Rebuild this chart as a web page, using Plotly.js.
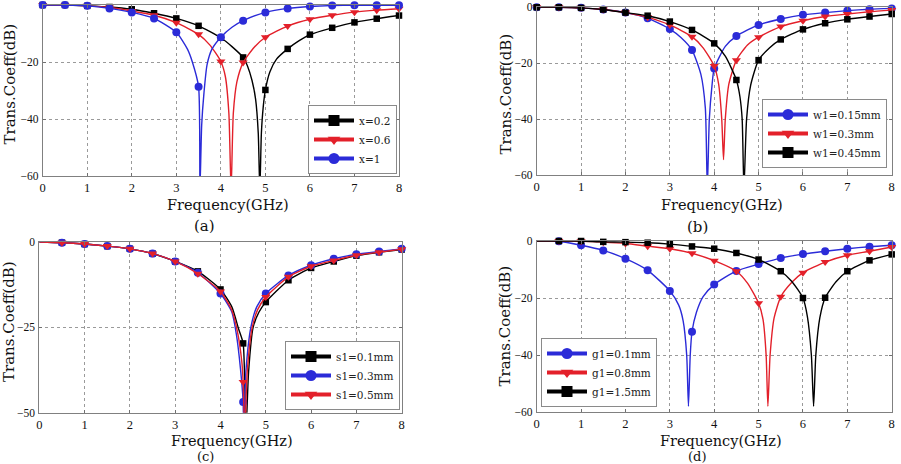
<!DOCTYPE html>
<html>
<head>
<meta charset="utf-8">
<script src="https://cdn.plot.ly/plotly-3.0.1.min.js"></script>
<style>html,body{margin:0;padding:0;background:#fff;}#chart{width:901px;height:464px;}</style>
</head>
<body>
<div id="chart"></div>
<script>
// ---------- DATA ----------
// Marker frequencies (GHz)
const freqAB = [0,0.5,1,1.5,2,2.5,3,3.5,4,4.5,5,5.5,6,6.5,7,7.5,8];
const freqCD = [0.5,1,1.5,2,2.5,3,3.5,4,4.5,5,5.5,6,6.5,7,7.5,8];

// Panel (a): x = 0.2, 0.6, 1
const a_x02 = [0,0,-0.3,-0.7,-1.5,-2.9,-4.7,-7.3,-11.5,-18.4,-29.8,-15.4,-10.4,-8.0,-6.1,-4.8,-3.7];
const a_x06 = [0,0,-0.3,-0.9,-2.1,-3.6,-6.2,-10.3,-19.8,-20.2,-11.3,-7.4,-5.0,-3.6,-2.5,-1.8,-1.3];
const a_x1  = [0,0,-0.3,-1.2,-2.6,-4.7,-9.6,-28.7,-11.3,-5.5,-2.6,-1.2,-0.5,-0.2,-0.1,-0.1,-0.1];
// extra curve points read near the notches
const a_x02_ef = [4.25,4.6,4.7,4.78,4.84,4.875,4.91,4.95,5.1,5.25,5.75];
const a_x02_ev = [-14.6,-21.5,-26.5,-33,-45,-65,-45,-36,-23.5,-19,-12.6];
const a_x06_ef = [3.75,4.1,4.18,4.23,4.28,4.36,4.75];
const a_x06_ev = [-14,-25,-38,-65,-38,-27,-14.8];
const a_x1_ef  = [3.25,3.36,3.53,3.57,3.62,3.69,3.8,4.25];
const a_x1_ev  = [-15.5,-20,-65,-42,-31,-21,-15.5,-7.8];

// Panel (b): w1 = 0.15, 0.3, 0.45 mm
const b_w015 = [0,0,-0.2,-0.8,-1.9,-3.9,-7.8,-15.3,-21.9,-10.3,-6.3,-4.2,-2.7,-1.9,-1.2,-0.7,-0.4];
const b_w03  = [0,0,-0.2,-0.8,-1.9,-3.6,-6.3,-10.5,-21.0,-18.9,-10.7,-6.9,-4.8,-3.3,-2.4,-1.6,-1.0];
const b_w045 = [0,0,-0.2,-0.8,-1.9,-3.0,-5.1,-8.1,-12.9,-26.0,-18.9,-11.5,-7.9,-5.7,-4.3,-3.3,-2.4];
const b_w015_ef = [3.25,3.7,3.8,3.845,3.89,3.95,4.25];
const b_w015_ev = [-10.8,-24,-36,-65,-40,-28,-14];
const b_w03_ef  = [3.75,4.1,4.17,4.21,4.25,4.33,4.75];
const b_w03_ev  = [-14.5,-27.5,-40,-54.5,-40,-27.5,-13.5];
const b_w045_ef = [4.25,4.58,4.63,4.67,4.73,4.82,5.25];
const b_w045_ev = [-17.5,-32,-40,-65,-40,-28,-14.5];

// Panel (c): s1 = 0.1, 0.3, 0.5 mm
const c_s01 = [-0.2,-0.6,-1.2,-2.0,-3.4,-5.7,-8.6,-13.9,-29.7,-17.6,-11.2,-7.6,-5.7,-4.0,-3.0,-2.2];
const c_s03 = [-0.2,-0.6,-1.2,-2.0,-3.4,-5.7,-9.0,-15.1,-46.9,-15.1,-9.8,-6.8,-4.9,-3.6,-2.8,-2.0];
const c_s05 = [-0.2,-0.6,-1.2,-2.0,-3.4,-5.7,-9.3,-14.5,-41.0,-16.1,-10.2,-7.1,-5.4,-3.9,-3.0,-2.1];
const c_s01_ef = [0,4.25,4.4,4.56,4.62,4.72,4.85];
const c_s01_ev = [0,-19,-25.5,-56,-38,-25,-20.5];
const c_s03_ef = [0,4.25,4.35,4.44,4.51,4.56,4.67,4.8];
const c_s03_ev = [0,-20.5,-27,-37,-56,-38,-25,-19];
const c_s05_ef = [0,4.25,4.37,4.47,4.535,4.59,4.7,4.82];
const c_s05_ev = [0,-20,-26,-35,-56,-38,-25,-19.8];

// Panel (d): g1 = 0.1, 0.8, 1.5 mm
const d_g01 = [-0.1,-1.5,-3.3,-6.2,-10.3,-17.5,-31.8,-15.3,-10.5,-8.1,-6.0,-4.6,-3.6,-2.7,-2.0,-1.5];
const d_g08 = [0,-0.1,-0.4,-0.9,-1.8,-2.7,-4.3,-6.9,-10.6,-21.8,-19.6,-11.1,-7.4,-5.0,-3.6,-2.1];
const d_g15 = [0,0,-0.3,-0.4,-0.6,-1.1,-1.9,-2.7,-4.2,-6.5,-10.6,-20.0,-19.9,-10.6,-6.8,-4.7];
const d_g01_ef = [0,3.2,3.3,3.38,3.42,3.46,3.6,3.75];
const d_g01_ev = [0,-22.5,-28,-40,-58,-40,-25,-19.5];
const d_g08_ef = [0,4.75,5.1,5.17,5.21,5.26,5.35,5.75];
const d_g08_ev = [0,-14.8,-27.5,-40,-58,-40,-27,-14.5];
const d_g15_ef = [0,5.75,6.1,6.19,6.24,6.29,6.38,6.75];
const d_g15_ev = [0,-14.2,-26.5,-40,-58,-40,-27,-14.2];

// labels
const legA = ['x=0.2','x=0.6','x=1'];
const legB = ['w1=0.15mm','w1=0.3mm','w1=0.45mm'];
const legC = ['s1=0.1mm','s1=0.3mm','s1=0.5mm'];
const legD = ['g1=0.1mm','g1=0.8mm','g1=1.5mm'];
const xTitle = 'Frequency(GHz)';
const yTitle = 'Trans.Coeff(dB)';
const captions = ['(a)','(b)','(c)','(d)'];

// ---------- STYLE ----------
const BLACK = '#000000', RED = '#e3202a', BLUE = '#2b2bd8';
const FONT = 'DejaVu Serif, Liberation Serif, serif';
const TFONT = 'Liberation Serif, DejaVu Serif, serif';
const SYM = {sq:'square', tri:'triangle-down', ci:'circle'};

function merge(fm, vm, fe, ve) {
  const pts = fm.map((f,i)=>[f,vm[i]]).concat(fe.map((f,i)=>[f,ve[i]]));
  pts.sort((p,q)=>p[0]-q[0]);
  return {x: pts.map(p=>p[0]), y: pts.map(p=>p[1])};
}

const traces = [];
function series(n, fm, vm, fe, ve, color, sym, name, legendId, group) {
  const c = merge(fm, vm, fe, ve);
  const xa = 'x' + (n===1?'':n), ya = 'y' + (n===1?'':n);
  traces.push({x:c.x, y:c.y, xaxis:xa, yaxis:ya, mode:'lines', showlegend:false,
    line:{color:color, width:1.4, shape:'spline', smoothing:0.6}, hoverinfo:'skip'});
  traces.push({x:fm, y:vm, xaxis:xa, yaxis:ya, mode:'markers', showlegend:false,
    marker:{color:color, symbol:sym, size: sym==='square'?6.5:8}, cliponaxis:false});
  traces.push({x:[null], y:[null], xaxis:xa, yaxis:ya, mode:'lines+markers', name:name,
    legend:legendId, legendgroup:group,
    line:{color:color, width:4}, marker:{color:color, symbol:sym, size:11}});
}

// panel a (legend order: black, red, blue)
series(1, freqAB, a_x02, a_x02_ef, a_x02_ev, BLACK, SYM.sq,  legA[0], 'legend', 'a1');
series(1, freqAB, a_x06, a_x06_ef, a_x06_ev, RED,   SYM.tri, legA[1], 'legend', 'a2');
series(1, freqAB, a_x1,  a_x1_ef,  a_x1_ev,  BLUE,  SYM.ci,  legA[2], 'legend', 'a3');
// panel b (legend order: blue, red, black)
series(2, freqAB, b_w015, b_w015_ef, b_w015_ev, BLUE,  SYM.ci,  legB[0], 'legend2', 'b1');
series(2, freqAB, b_w03,  b_w03_ef,  b_w03_ev,  RED,   SYM.tri, legB[1], 'legend2', 'b2');
series(2, freqAB, b_w045, b_w045_ef, b_w045_ev, BLACK, SYM.sq,  legB[2], 'legend2', 'b3');
// panel c (legend order: black, blue, red)
series(3, freqCD, c_s01, c_s01_ef, c_s01_ev, BLACK, SYM.sq,  legC[0], 'legend3', 'c1');
series(3, freqCD, c_s03, c_s03_ef, c_s03_ev, BLUE,  SYM.ci,  legC[1], 'legend3', 'c2');
series(3, freqCD, c_s05, c_s05_ef, c_s05_ev, RED,   SYM.tri, legC[2], 'legend3', 'c3');
// panel d (legend order: blue, red, black)
series(4, freqCD, d_g01, d_g01_ef, d_g01_ev, BLUE,  SYM.ci,  legD[0], 'legend4', 'd1');
series(4, freqCD, d_g08, d_g08_ef, d_g08_ev, RED,   SYM.tri, legD[1], 'legend4', 'd2');
series(4, freqCD, d_g15, d_g15_ef, d_g15_ev, BLACK, SYM.sq,  legD[2], 'legend4', 'd3');

const W = 901, H = 464;
const px = v => v / W, py = v => 1 - v / H;

function xax(d0, d1, anchor) {
  return {domain:[px(d0), px(d1)], range:[0,8], dtick:1, tick0:0, anchor:anchor,
    showgrid:true, gridcolor:'#9a9a9a', griddash:'dot', gridwidth:1,
    showline:true, linecolor:'#808080', linewidth:1, mirror:'allticks',
    ticks:'inside', ticklen:3, tickcolor:'#707070', zeroline:false,
    tickfont:{family:TFONT, size:12.5, color:'#111'}, fixedrange:true};
}
function yax(d0, d1, rng, dt, anchor) {
  return {domain:[py(d1), py(d0)], range:rng, dtick:dt, tick0:0, anchor:anchor,
    showgrid:true, gridcolor:'#9a9a9a', griddash:'dot', gridwidth:1,
    showline:true, linecolor:'#808080', linewidth:1, mirror:'allticks',
    ticks:'inside', ticklen:3, tickcolor:'#707070', zeroline:false,
    ticklabelstandoff:1,
    tickfont:{family:TFONT, size:11.5, color:'#111'}, fixedrange:true};
}
function leg(xr, yb, xanchor, gap) {
  return {x:px(xr), y:py(yb), xanchor:xanchor, yanchor:'bottom',
    bgcolor:'#ffffff', bordercolor:'#8a8a8a', borderwidth:1,
    font:{family:FONT, size:10.5, color:'#222'}, tracegroupgap:gap,
    itemwidth:40, traceorder:'grouped'};
}
function ann(text, x, y, size, angle) {
  return {text:text, x:px(x), y:py(y), xref:'paper', yref:'paper', showarrow:false,
    xanchor:'center', yanchor:'middle', textangle:angle||0,
    font:{family:FONT, size:size, color:'#111'}};
}

const layout = {
  width:W, height:H, margin:{l:0,r:0,t:0,b:0},
  paper_bgcolor:'#ffffff', plot_bgcolor:'#ffffff', showlegend:true,
  xaxis: xax(42.7, 399, 'y'),   yaxis: yax(5, 176, [-60,0], 20, 'x'),
  xaxis2: xax(536.7, 891.7, 'y2'), yaxis2: yax(7.3, 175, [-60,0], 20, 'x2'),
  xaxis3: xax(39.3, 401.7, 'y3'),  yaxis3: yax(242, 412.7, [-50,0], 25, 'x3'),
  xaxis4: xax(536.7, 891.7, 'y4'), yaxis4: yax(241, 412, [-60,0], 20, 'x4'),
  legend:  leg(397, 174, 'right', 0),
  legend2: leg(887, 168, 'right', 0),
  legend3: leg(400, 410, 'right', 0),
  legend4: leg(541, 407, 'left', 0),
  annotations: [
    ann(yTitle, 9.5, 84, 15, -90), ann(yTitle, 505.5, 94, 15, -90),
    ann(yTitle, 9, 322, 15, -90), ann(yTitle, 504.5, 326, 15, -90),
    ann(xTitle, 228, 205, 14.5), ann(xTitle, 722, 205, 14.5),
    ann(xTitle, 232, 441, 14.5), ann(xTitle, 721, 441, 14.5),
    ann(captions[0], 204, 226, 15), ann(captions[1], 697, 227, 15),
    ann(captions[2], 205, 456, 13), ann(captions[3], 697, 456, 13)
  ]
};

Plotly.newPlot('chart', traces, layout, {staticPlot:true, displayModeBar:false});
</script>
</body>
</html>
